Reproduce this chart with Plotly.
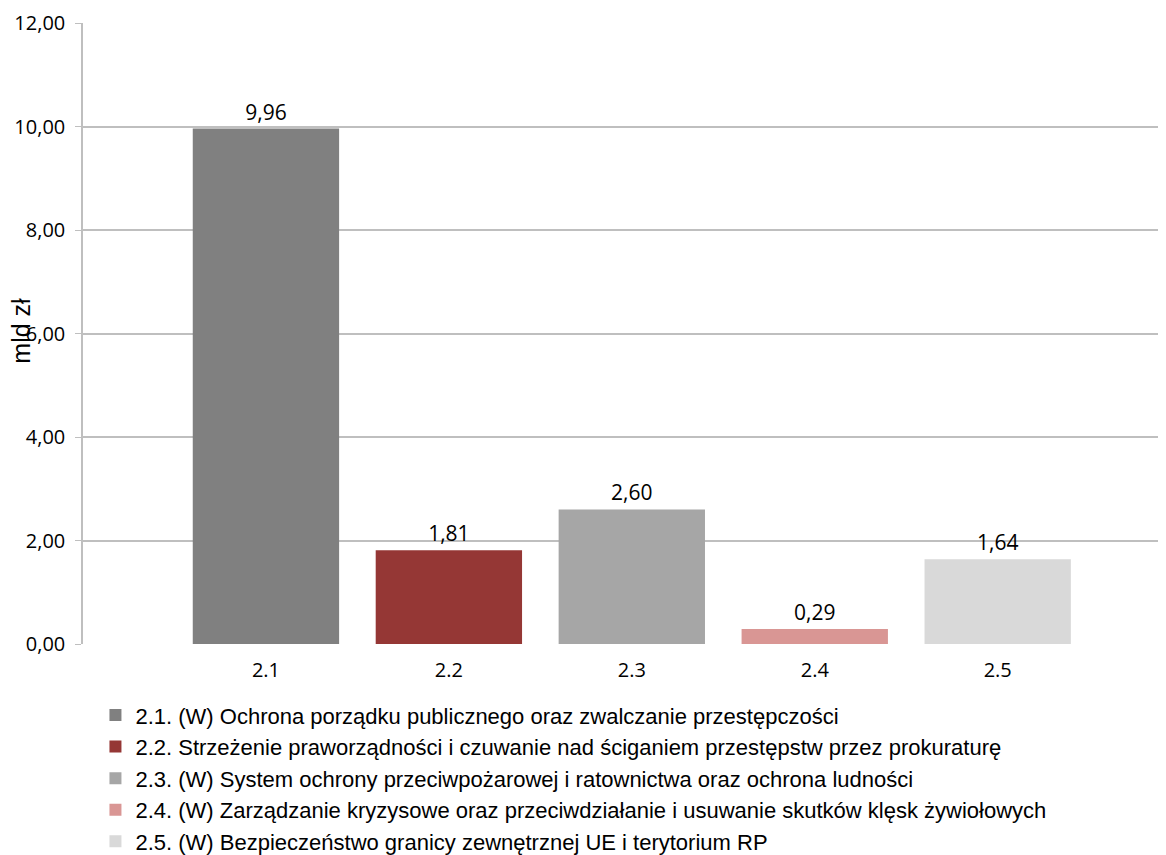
import plotly.graph_objects as go

categories = ["2.1", "2.2", "2.3", "2.4", "2.5"]
positions = [1, 2, 3, 4, 5]
values = [9.96, 1.81, 2.60, 0.29, 1.64]
legend_names = [
    "2.1. (W) Ochrona porządku publicznego oraz zwalczanie przestępczości",
    "2.2. Strzeżenie praworządności i czuwanie nad ściganiem przestępstw przez prokuraturę",
    "2.3. (W) System ochrony przeciwpożarowej i ratownictwa oraz ochrona ludności",
    "2.4. (W) Zarządzanie kryzysowe oraz przeciwdziałanie i usuwanie skutków klęsk żywiołowych",
    "2.5. (W) Bezpieczeństwo granicy zewnętrznej UE i terytorium RP",
]
colors = ["#808080", "#953735", "#a6a6a6", "#d99694", "#d9d9d9"]
y_ticks = [0, 2, 4, 6, 8, 10, 12]

fig = go.Figure()
for i in range(len(categories)):
    fig.add_trace(go.Bar(
        x=[positions[i]], y=[values[i]], name=legend_names[i],
        marker=dict(color=colors[i], line=dict(width=0)),
        width=0.8,
        texttemplate="%{y:.2f}", textposition="outside",
        textfont=dict(family="Open Sans", size=21, color="#000000"),
        cliponaxis=False,
        legendgroup=f"g{i}",
    ))

fig.update_layout(
    width=1166, height=855,
    margin=dict(l=75, r=8, t=15, b=219, autoexpand=False),
    paper_bgcolor="white", plot_bgcolor="white",
    separators=", ",
    barmode="overlay",
    showlegend=True,
    legend=dict(
        orientation="v", xref="container", yref="container",
        x=0.075, y=0.1975, xanchor="left", yanchor="top",
        font=dict(family="Liberation Sans, Arial", size=22, color="#000000"),
        tracegroupgap=0, itemwidth=30,
        bgcolor="rgba(0,0,0,0)",
    ),
    xaxis=dict(
        range=[0, 5.92], tickvals=positions, ticktext=categories,
        showgrid=False, zeroline=False, showline=False, ticks="",
        automargin=False, ticklabelstandoff=12,
        tickfont=dict(family="Open Sans", size=20, color="#000000"),
    ),
    yaxis=dict(
        range=[0, 12], tickvals=y_ticks, tickformat=".2f",
        showgrid=True, gridcolor="#bfbfbf", gridwidth=1.5,
        zeroline=False, showline=True, linecolor="#bfbfbf", linewidth=1.5,
        ticks="outside", ticklen=6, tickcolor="#bfbfbf",
        automargin=False, ticklabelstandoff=6,
        tickfont=dict(family="Open Sans", size=20, color="#000000"),
    ),
    annotations=[dict(
        text="mld zł", textangle=-90, xref="paper", yref="paper",
        x=-0.057, y=0.505, xanchor="center", yanchor="middle", showarrow=False,
        font=dict(family="Liberation Sans, Arial", size=25, color="#000000"),
    )],
)

fig.write_html("out.html")
